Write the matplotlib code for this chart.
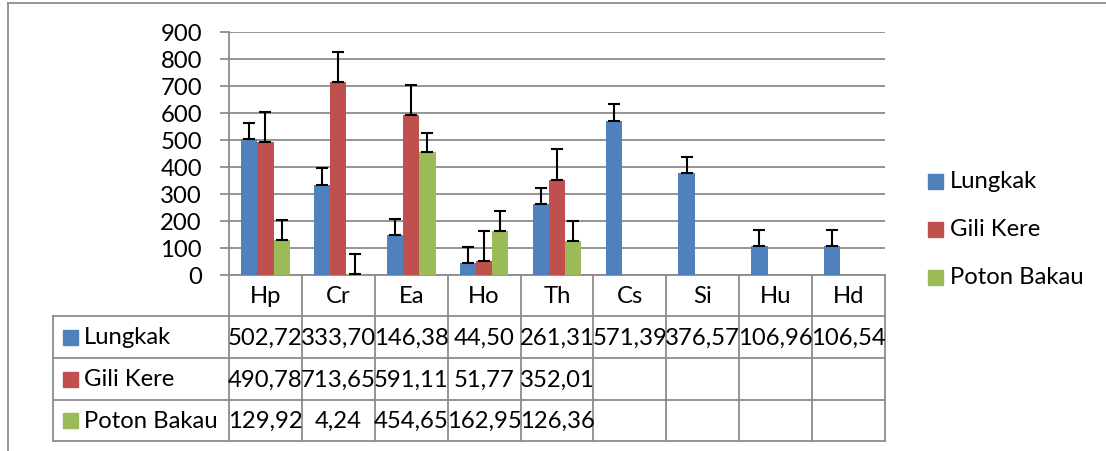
#!/usr/bin/env python3
"""Grouped bar chart with error bars and an Excel-style data table below."""

import matplotlib
matplotlib.use("Agg")
import matplotlib.pyplot as plt
from matplotlib.patches import Rectangle
import numpy as np

plt.rcParams["font.family"] = ["Lato", "DejaVu Sans"]

categories = ["Hp", "Cr", "Ea", "Ho", "Th", "Cs", "Si", "Hu", "Hd"]
series_names = ["Lungkak", "Gili Kere", "Poton Bakau"]
lungkak = [502.72, 333.70, 146.38, 44.50, 261.31, 571.39, 376.57, 106.96, 106.54]
gili_kere = [490.78, 713.65, 591.11, 51.77, 352.01, None, None, None, None]
poton_bakau = [129.92, 4.24, 454.65, 162.95, 126.36, None, None, None, None]
# upper error bars
err_lungkak = [61, 61, 61, 61, 61, 61, 61, 61, 61]
err_gili = [113, 113, 113, 113, 113, None, None, None, None]
err_poton = [73, 73, 73, 73, 73, None, None, None, None]

colors = ["#4F81BD", "#C0504D", "#9BBB59"]
GRID = "#8C8C8C"
W, H = 1106, 452
FS = 17.2


def arr(vals):
    return np.array([np.nan if v is None else v for v in vals], dtype=float)


def fmt(v):
    return "" if v is None else f"{v:.2f}".replace(".", ",")


def main() -> None:
    fig = plt.figure(figsize=(W / 100, H / 100), dpi=100)

    # overlay in pixel coordinates for the table, legend and border
    ov = fig.add_axes([0, 0, 1, 1], zorder=0)
    ov.set_xlim(0, W)
    ov.set_ylim(H, 0)
    ov.axis("off")

    x0, x1, y_top, y_zero = 229, 885, 33, 276
    ax = fig.add_axes([x0 / W, 1 - y_zero / H, (x1 - x0) / W, (y_zero - y_top) / H], zorder=1)
    ax.patch.set_alpha(0)

    all_vals = [arr(lungkak), arr(gili_kere), arr(poton_bakau)]
    all_errs = [arr(err_lungkak), arr(err_gili), arr(err_poton)]
    n = len(categories)
    x = np.arange(n) + 0.5
    bw = 1 / 4.5
    for i, (vals, errs) in enumerate(zip(all_vals, all_errs)):
        xi = x + (i - 1) * bw
        ax.bar(xi, vals, width=bw, color=colors[i], zorder=2)
        ax.errorbar(xi, vals, yerr=[np.zeros(n), errs], fmt="none", ecolor="black",
                    elinewidth=1.5, capsize=4.5, capthick=1.5, zorder=3)

    ax.set_xlim(0, n)
    ax.set_ylim(0, 900)
    ax.set_yticks(np.arange(0, 901, 100))
    ax.set_xticks([])
    ax.yaxis.grid(True, color=GRID, linewidth=1.3)
    ax.set_axisbelow(True)
    for side in ["top", "right", "bottom"]:
        ax.spines[side].set_visible(False)
    ax.spines["left"].set_color(GRID)
    ax.spines["left"].set_linewidth(1.3)
    ax.tick_params(axis="y", length=6.5, width=1.3, color=GRID, pad=13, labelsize=FS)

    # data table
    colw = (x1 - x0) / n
    rows = [y_zero, 317, 359, 401, 442]
    lab_x = 53
    lkw = dict(color=GRID, linewidth=1.3)
    for k in range(n + 1):
        xx = x0 + k * colw
        ov.plot([xx, xx], [rows[0], rows[-1]], **lkw)
    ov.plot([x0, x1], [rows[0], rows[0]], **lkw)
    for yy in rows[1:]:
        ov.plot([lab_x, x1], [yy, yy], **lkw)
    ov.plot([lab_x, lab_x], [rows[1], rows[-1]], **lkw)

    for k, c in enumerate(categories):
        ov.text(x0 + (k + 0.5) * colw, (rows[0] + rows[1]) / 2, c, ha="center",
                va="center", fontsize=FS)
    raw = [lungkak, gili_kere, poton_bakau]
    for r, name in enumerate(series_names):
        yc = (rows[r + 1] + rows[r + 2]) / 2
        ov.add_patch(Rectangle((63, yc - 7.5), 15, 15, color=colors[r]))
        ov.text(84, yc, name, ha="left", va="center", fontsize=FS)
        for k, v in enumerate(raw[r]):
            ov.text(x0 + (k + 0.5) * colw, yc, fmt(v), ha="center", va="center", fontsize=FS)

    # legend
    for r, name in enumerate(series_names):
        yc = 182 + r * 48
        ov.add_patch(Rectangle((928, yc - 7.5), 15, 15, color=colors[r]))
        ov.text(950, yc, name, ha="left", va="center", fontsize=FS)

    # chart border
    ov.plot([8, W], [4, 4], color=GRID, linewidth=1.3)
    ov.plot([8, 8], [4, H], color=GRID, linewidth=1.3)

    fig.savefig("out.png", dpi=100)
    plt.close(fig)


if __name__ == "__main__":
    main()
